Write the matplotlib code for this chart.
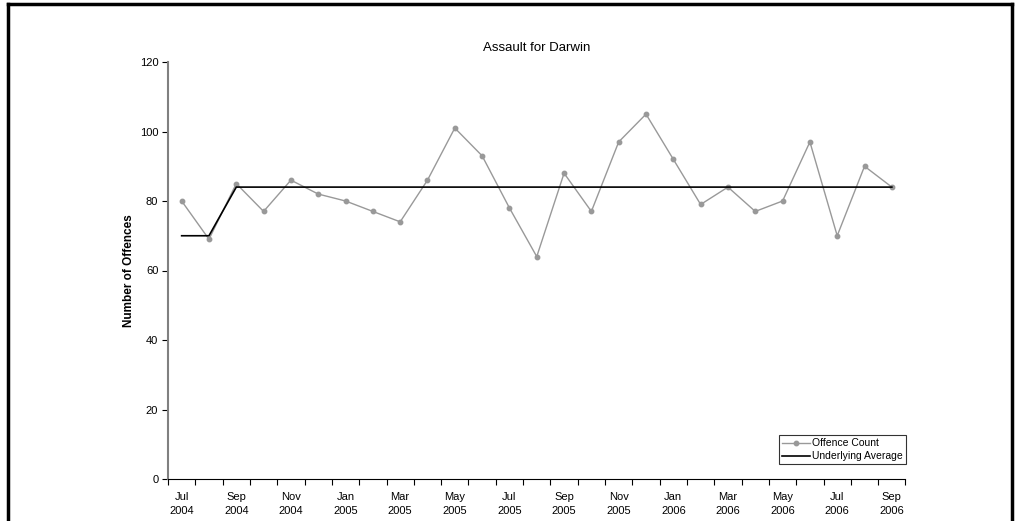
import matplotlib.pyplot as plt
from matplotlib.lines import Line2D

plt.rcParams['font.family'] = ['Liberation Sans', 'DejaVu Sans']

months = ['Jul', 'Aug', 'Sep', 'Oct', 'Nov', 'Dec',
          'Jan', 'Feb', 'Mar', 'Apr', 'May', 'Jun', 'Jul', 'Aug', 'Sep', 'Oct', 'Nov', 'Dec',
          'Jan', 'Feb', 'Mar', 'Apr', 'May', 'Jun', 'Jul', 'Aug', 'Sep']
years = ['2004'] * 6 + ['2005'] * 12 + ['2006'] * 9
offence_count = [80, 69, 85, 77, 86, 82, 80, 77, 74, 86, 101, 93, 78, 64, 88, 77, 97, 105,
                 92, 79, 84, 77, 80, 97, 70, 90, 84]
underlying_avg = [70, 70] + [84] * 25

fig = plt.figure(figsize=(10.17, 5.21), dpi=100)
ax = fig.add_axes([168 / 1017, 42 / 521, (905.5 - 168) / 1017, (479 - 62) / 521])

x = list(range(len(offence_count)))
ax.plot(x, offence_count, color='#999999', lw=1, marker='o', ms=3.2, label='Offence Count')
ax.plot(x, underlying_avg, color='black', lw=1.2, label='Underlying Average')

ax.set_xlim(-0.5, len(x) - 0.5)
ax.set_ylim(0, 120)
ax.set_yticks(range(0, 121, 20))
ax.set_xticks([i - 0.5 for i in range(len(x) + 1)], minor=False)
ax.set_xticklabels([])
ax.set_xticks(x[::2], minor=True)
ax.set_xticklabels([m + '\n' + y for m, y in zip(months[::2], years[::2])], minor=True,
                   linespacing=1.5)
ax.tick_params(axis='x', which='major', length=4, direction='out', width=0.8)
ax.tick_params(axis='x', which='minor', length=0, labelsize=8, pad=9)
ax.tick_params(axis='y', length=4, width=0.8, labelsize=8, pad=3)

for s in ['top', 'right']:
    ax.spines[s].set_visible(False)
ax.spines['left'].set_color('#808080')
ax.spines['left'].set_linewidth(1.5)
ax.spines['bottom'].set_color('black')

ax.set_title('Assault for Darwin', fontsize=9.5, pad=8)
ax.set_ylabel('Number of Offences', fontsize=8.5, fontweight='bold')
ax.yaxis.set_label_coords(-33 / (905.5 - 168), 0.5)

leg = ax.legend(loc='lower right', fontsize=7.5, frameon=True, fancybox=False,
                borderpad=0.3, handlelength=2.6, handletextpad=0.2, labelspacing=0.3,
                borderaxespad=0, bbox_to_anchor=(1.0, 0.035))
leg.get_frame().set_edgecolor('black')
leg.get_frame().set_linewidth(0.8)

# outer frame (left, top, right)
W, H = 1017, 521
fig.add_artist(Line2D([8 / W, 8 / W], [0, 1 - 4 / H], color='black', lw=2.5))
fig.add_artist(Line2D([8 / W, 1012 / W], [1 - 4 / H, 1 - 4 / H], color='black', lw=2.5))
fig.add_artist(Line2D([1012 / W, 1012 / W], [0, 1 - 4 / H], color='black', lw=2.5))

plt.savefig('out.png', dpi=100)
